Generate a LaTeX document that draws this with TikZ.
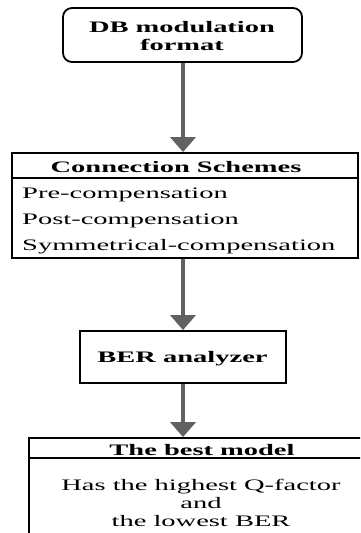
\documentclass[tikz,border=0pt]{standalone}
\usepackage{fontspec}
\setmainfont[FakeStretch=1.78]{Liberation Serif}
\usepackage{tikz}
\usetikzlibrary{arrows.meta}

\begin{document}
\begin{tikzpicture}[x=1pt,y=-1pt,
	box/.style={draw=black, line width=1.8pt, inner sep=0pt},
	roundbox/.style={box, rounded corners=9pt},
	txt/.style={anchor=base, inner sep=0pt, font=\fontsize{16}{19}\selectfont},
	head/.style={txt, font=\fontsize{16}{19}\selectfont\bfseries},
	flow/.style={draw=black!62, line width=3.6pt, -{Triangle[width=25pt,length=15pt]}}]
			\useasboundingbox (0,0) rectangle (360,533);
			\clip (0,0) rectangle (360,533);
			\node[roundbox, minimum width=239pt, minimum height=54pt] (db) at ( 182.5 , 35 ) {};
			\node[box, minimum width=346pt, minimum height=105pt] (schemes) at ( 185 , 205.5 ) {};
			\node[box, minimum width=206pt, minimum height=52pt] (ber) at ( 183 , 357 ) {};
			\node[box, minimum width=345pt, minimum height=120pt] (best) at ( 201.5 , 498 ) {};
			\draw[black, line width=1.8pt] ( schemes.west |- 0,178 )--( schemes.east |- 0,178 );
			\draw[black, line width=1.8pt] ( best.west |- 0,458 )--( best.east |- 0,458 );
			\node[head] (dbA) at ( 182 , 32 ) {DB modulation};
			\node[head] (dbB) at ( 182 , 50 ) {format};
			\node[head] (schemesT) at ( 176 , 172 ) {Connection Schemes};
			\node[txt, anchor=base west] (pre) at ( 22 , 198 ) {Pre-compensation};
			\node[txt, anchor=base west] (post) at ( 22 , 224 ) {Post-compensation};
			\node[txt, anchor=base west] (sym) at ( 22 , 250 ) {Symmetrical-compensation};
			\node[head] (berT) at ( 182.5 , 362 ) {BER analyzer};
			\node[head] (bestT) at ( 202 , 455 ) {The best model};
			\node[txt] (bestA) at ( 201 , 490 ) {Has the highest Q-factor};
			\node[txt] (bestB) at ( 201 , 508 ) {and};
			\node[txt] (bestC) at ( 201 , 526 ) {the lowest BER};
			\draw[flow] (db.south -| 183,0) -- (schemes.north -| 183,0);
			\draw[flow] (schemes.south -| 183,0) -- (ber.north -| 183,0);
			\draw[flow] (ber.south -| 183,0) -- (best.north -| 183,0);
		\end{tikzpicture}
\end{document}
